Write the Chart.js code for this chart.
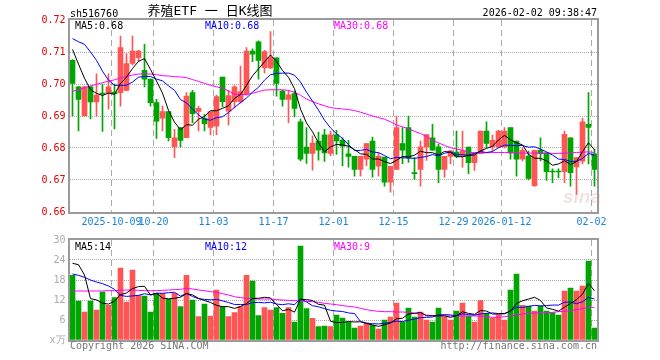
<!DOCTYPE html>
<html>
<head>
<meta charset="utf-8">
<script src="https://cdn.jsdelivr.net/npm/chart.js@4/dist/chart.umd.min.js"></script>
<style>
  body { margin: 0; width: 660px; height: 360px; position: relative; overflow: hidden; background: #fff;
         font-family: "DejaVu Sans Mono", monospace; font-size: 10px; }
  canvas { position: absolute; left: 0; }
  .t { position: absolute; white-space: pre; line-height: 12px; }
</style>
</head>
<body>
<canvas id="kline" width="660" height="230" style="top:0"></canvas>
<canvas id="vol" width="660" height="130" style="top:230px"></canvas>

<div class="t" style="left:70px;top:8px;color:#000">sh516760</div>
<div class="t" style="left:110px;width:200px;top:3px;text-align:center;font-size:13px;line-height:16px;font-family:'DejaVu Sans Mono','Noto Sans CJK SC',sans-serif">养殖ETF 一 日K线图</div>
<div class="t" style="right:63px;top:7px;color:#000">2026-02-02 09:38:47</div>

<div class="t" style="left:75px;top:20px;color:#000">MA5:0.68</div>
<div class="t" style="left:205px;top:20px;color:#0000ff">MA10:0.68</div>
<div class="t" style="left:334px;top:20px;color:#ff00ff">MA30:0.68</div>

<div class="t" style="left:75px;top:241px;color:#000">MA5:14</div>
<div class="t" style="left:205px;top:241px;color:#0000ff">MA10:12</div>
<div class="t" style="left:334px;top:241px;color:#ff00ff">MA30:9</div>

<div class="t" style="left:70px;top:340px;color:#777">Copyright 2026 SINA.COM</div>
<div class="t" style="right:63px;top:340px;color:#777">http://finance.sina.com.cn</div>
<div class="t" style="left:563px;top:187px;font:italic bold 19px 'Liberation Sans',sans-serif;line-height:20px;color:rgba(200,150,150,0.28)">sina</div>

<script>
// trading days
const dates = [
  '2025-09-22','2025-09-23','2025-09-24','2025-09-25','2025-09-26','2025-09-29','2025-09-30',
  '2025-10-09','2025-10-10','2025-10-13','2025-10-14','2025-10-15','2025-10-16','2025-10-17',
  '2025-10-20','2025-10-21','2025-10-22','2025-10-23','2025-10-24',
  '2025-10-27','2025-10-28','2025-10-29','2025-10-30','2025-10-31',
  '2025-11-03','2025-11-04','2025-11-05','2025-11-06','2025-11-07',
  '2025-11-10','2025-11-11','2025-11-12','2025-11-13','2025-11-14',
  '2025-11-17','2025-11-18','2025-11-19','2025-11-20','2025-11-21',
  '2025-11-24','2025-11-25','2025-11-26','2025-11-27','2025-11-28',
  '2025-12-01','2025-12-02','2025-12-03','2025-12-04','2025-12-05',
  '2025-12-08','2025-12-09','2025-12-10','2025-12-11','2025-12-12',
  '2025-12-15','2025-12-16','2025-12-17','2025-12-18','2025-12-19',
  '2025-12-22','2025-12-23','2025-12-24','2025-12-25','2025-12-26',
  '2025-12-29','2025-12-30','2025-12-31',
  '2026-01-05','2026-01-06','2026-01-07','2026-01-08','2026-01-09',
  '2026-01-12','2026-01-13','2026-01-14','2026-01-15','2026-01-16',
  '2026-01-19','2026-01-20','2026-01-21','2026-01-22','2026-01-23',
  '2026-01-26','2026-01-27','2026-01-28','2026-01-29','2026-01-30',
  '2026-02-02'
];
const tickDates = ['2025-10-09','2025-10-20','2025-11-03','2025-11-17','2025-12-01','2025-12-15','2025-12-29','2026-01-12','2026-02-02'];
const tickText  = ['2025-10-09','10-20','11-03','11-17','12-01','12-15','12-29','2026-01-12','02-02'];

const open = [
  0.7074,0.6991,0.6900,0.6991,0.6944,0.6972,0.6973,0.6975,0.6973,0.6980,
  0.7064,0.7082,0.7043,0.7015,0.6942,0.6893,0.6914,0.6804,0.6864,0.6832,
  0.6973,0.6914,0.6893,0.6864,0.6868,0.7022,0.6915,0.6945,0.6945,0.6970,
  0.7103,0.7132,0.7051,0.7050,0.7082,0.6978,0.6952,0.6970,0.6882,0.6803,
  0.6783,0.6822,0.6841,0.6783,0.6841,0.6824,0.6782,0.6774,0.6733,0.6765,
  0.6822,0.6743,0.6772,0.6693,0.6733,0.6814,0.6864,0.6722,0.6733,0.6803,
  0.6832,0.6804,0.6733,0.6774,0.6787,0.6774,0.6803,0.6754,0.6782,0.6853,
  0.6803,0.6803,0.6803,0.6864,0.6822,0.6765,0.6775,0.6682,0.6793,0.6785,
  0.6727,0.6727,0.6726,0.6832,0.6741,0.6759,0.6874,0.6782
];
const high = [
  0.7076,0.6993,0.6993,0.6993,0.7032,0.7000,0.7032,0.7000,0.7150,0.7095,
  0.7150,0.7105,0.7124,0.7015,0.6952,0.6931,0.6914,0.6858,0.6864,0.6973,
  0.6980,0.6931,0.6905,0.6914,0.6965,0.7022,0.6980,0.6995,0.7056,0.7114,
  0.7110,0.7135,0.7105,0.7164,0.7082,0.6980,0.6980,0.6978,0.6890,0.6864,
  0.6838,0.6850,0.6858,0.6853,0.6855,0.6832,0.6824,0.6774,0.6774,0.6814,
  0.6834,0.6785,0.6772,0.6743,0.6900,0.6864,0.6900,0.6770,0.6822,0.6842,
  0.6874,0.6812,0.6774,0.6791,0.6853,0.6853,0.6803,0.6782,0.6853,0.6882,
  0.6840,0.6855,0.6864,0.6864,0.6822,0.6800,0.6790,0.6793,0.6832,0.6785,
  0.6735,0.6735,0.6853,0.6832,0.6770,0.6893,0.6973,0.6796
];
const low = [
  0.6900,0.6853,0.6900,0.6891,0.6900,0.6852,0.6921,0.6860,0.6931,0.6978,
  0.7060,0.7070,0.6991,0.6931,0.6830,0.6853,0.6822,0.6770,0.6803,0.6832,
  0.6879,0.6853,0.6853,0.6841,0.6842,0.6928,0.6872,0.6925,0.6940,0.6965,
  0.7070,0.7015,0.7035,0.7048,0.6962,0.6931,0.6879,0.6897,0.6760,0.6752,
  0.6731,0.6762,0.6758,0.6775,0.6780,0.6744,0.6740,0.6712,0.6712,0.6745,
  0.6709,0.6712,0.6681,0.6662,0.6733,0.6751,0.6755,0.6702,0.6681,0.6761,
  0.6793,0.6692,0.6709,0.6750,0.6770,0.6740,0.6720,0.6730,0.6782,0.6800,
  0.6790,0.6800,0.6800,0.6765,0.6712,0.6760,0.6700,0.6680,0.6760,0.6699,
  0.6692,0.6707,0.6692,0.6681,0.6655,0.6750,0.6750,0.6681
];
const close = [
  0.7002,0.6952,0.6991,0.6944,0.6965,0.6968,0.6991,0.6970,0.7114,0.7064,
  0.7103,0.7103,0.7015,0.6942,0.6884,0.6914,0.6832,0.6832,0.6824,0.6962,
  0.6907,0.6924,0.6876,0.6914,0.6961,0.6945,0.6964,0.6991,0.6976,0.7103,
  0.7093,0.7074,0.7101,0.7083,0.7002,0.6952,0.6966,0.6924,0.6765,0.6783,
  0.6815,0.6793,0.6785,0.6841,0.6822,0.6806,0.6774,0.6733,0.6774,0.6814,
  0.6733,0.6774,0.6693,0.6743,0.6864,0.6793,0.6768,0.6720,0.6804,0.6842,
  0.6793,0.6733,0.6774,0.6791,0.6774,0.6791,0.6754,0.6782,0.6853,0.6814,
  0.6824,0.6853,0.6853,0.6785,0.6765,0.6793,0.6705,0.6793,0.6782,0.6726,
  0.6725,0.6725,0.6843,0.6723,0.6770,0.6882,0.6864,0.6733
];
// volume, 万手
const volume = [
  19.4,11.7,8.4,11.7,9.0,14.4,10.4,12.7,21.6,11.4,
  21.0,13.4,13.2,8.4,14.0,14.0,12.2,14.0,10.0,19.4,
  12.0,7.0,10.8,7.2,15.0,10.0,7.0,8.2,10.0,19.4,
  17.7,7.3,9.7,9.0,9.7,8.0,9.7,5.4,28.2,9.4,
  6.5,4.0,4.2,4.0,7.5,6.6,5.4,3.6,4.2,5.0,
  4.4,3.3,6.0,6.9,11.1,5.4,9.6,6.9,8.4,6.0,
  5.4,9.6,6.9,6.0,8.7,11.1,7.2,5.4,11.8,7.9,
  6.6,7.6,6.0,15.0,19.8,10.4,10.2,8.7,10.2,8.7,
  8.2,7.5,14.7,15.6,14.7,16.2,23.7,3.6
];

// averages before the window starts
const ma5Head = [0.7108,0.7062,0.7018,0.6982];
const ma10Head = [0.7142,0.7132,0.7124,0.7100,0.7074,0.7040,0.7012,0.6996,0.6996];
const ma30 = [
  0.6977,0.6982,0.6988,0.6994,0.6999,0.7004,0.7009,0.7013,0.7019,0.7024,
  0.7028,0.7031,0.7032,0.7031,0.7029,0.7026,0.7025,0.7023,0.7022,0.7020,
  0.7014,0.7008,0.7002,0.6996,0.6991,0.6987,0.6978,0.6968,0.6967,0.6967,
  0.6971,0.6976,0.6981,0.6982,0.6982,0.6982,0.6980,0.6974,0.6965,0.6953,
  0.6945,0.6938,0.6932,0.6926,0.6924,0.6922,0.6920,0.6917,0.6912,0.6906,
  0.6900,0.6895,0.6890,0.6882,0.6872,0.6866,0.6860,0.6852,0.6845,0.6836,
  0.6824,0.6816,0.6808,0.6801,0.6797,0.6793,0.6787,0.6785,0.6785,0.6785,
  0.6786,0.6786,0.6786,0.6785,0.6785,0.6784,0.6784,0.6784,0.6784,0.6784,
  0.6783,0.6783,0.6784,0.6785,0.6786,0.6787,0.6788,0.6786
];
const volMa5Head = [23.0,22.6,19.5,12.4];
const volMa10Head = [19.8,19.4,18.8,18.0,17.4,16.9,16.2,15.2,13.4];
const volMa30 = [
  14.7,14.7,14.7,14.7,14.7,14.7,14.8,14.8,14.9,15.0,
  15.0,14.9,14.8,14.8,14.8,14.9,15.0,15.1,15.2,15.5,
  15.3,15.0,14.8,14.5,14.3,13.9,13.5,13.0,12.7,12.5,
  12.4,12.3,12.3,12.3,12.1,12.0,11.9,11.8,11.7,11.6,
  11.5,11.3,11.0,10.8,10.6,10.3,10.1,9.9,9.5,9.1,
  8.8,8.6,8.5,8.5,8.4,8.4,8.3,8.1,7.8,7.5,
  7.3,7.2,7.2,7.2,7.2,7.2,7.2,7.2,7.2,7.0,
  6.8,6.8,7.0,7.2,7.5,7.8,8.0,8.1,8.2,8.2,
  8.3,8.5,8.6,8.8,9.1,9.4,9.8,9.8
];

function movingAvg(src, n, head) {
  return src.map((v, i) => i < n - 1 ? head[i]
    : src.slice(i - n + 1, i + 1).reduce((a, b) => a + b, 0) / n);
}

const UP = '#ff5555', DOWN = '#00a600';
const colors = close.map((c, i) => c > open[i] ? UP : DOWN);
const monoFont = { family: '"DejaVu Sans Mono", monospace', size: 10 };
const gridIdx = tickDates.map(d => dates.indexOf(d));

const frame = {
  id: 'frame',
  afterDraw(chart) {
    const a = chart.chartArea, g = chart.ctx;
    g.save();
    g.strokeStyle = '#9a9a9a';
    g.lineWidth = 2;
    g.strokeRect(a.left - 0.5, a.top - 1, a.right - a.left + 1, a.bottom - a.top + 2);
    g.restore();
  }
};

function xScale(showLabels, height) {
  return {
    type: 'category',
    offset: true,
    grid: {
      offset: true,
      drawTicks: false,
      color: ctx => gridIdx.includes(ctx.index) ? '#aaaaaa' : 'rgba(0,0,0,0)'
    },
    border: { display: false, dash: [6, 4] },
    ticks: {
      display: showLabels,
      autoSkip: false,
      maxRotation: 0,
      padding: 4,
      labelOffset: -3,
      color: '#1884d8',
      font: monoFont,
      callback: (v, i) => {
        const k = tickDates.indexOf(dates[i]);
        return k >= 0 ? tickText[k] : '';
      }
    },
    afterFit: s => { s.height = height; }
  };
}

function lineSet(data, color) {
  return { type: 'line', data, borderColor: color, borderWidth: 1, pointRadius: 0, tension: 0, order: 0 };
}

const bodies = open.map((o, i) => [Math.min(o, close[i]), Math.max(o, close[i])]);
const wicks = low.map((l, i) => [l, high[i]]);

new Chart(document.getElementById('kline'), {
  type: 'bar',
  data: {
    labels: dates,
    datasets: [
      lineSet(movingAvg(close, 5, ma5Head), '#000000'),
      lineSet(movingAvg(close, 10, ma10Head), '#0000ff'),
      lineSet(ma30, '#ff00ff'),
      { data: bodies, backgroundColor: colors, barThickness: 5, minBarLength: 1, grouped: false, order: 2 },
      { data: wicks, backgroundColor: colors, barThickness: 1, grouped: false, order: 3 }
    ]
  },
  options: {
    responsive: false,
    animation: false,
    layout: { padding: { top: 20, right: 62.5, left: 0, bottom: 0 } },
    plugins: { legend: { display: false }, tooltip: { enabled: false } },
    scales: {
      x: xScale(true, 18),
      y: {
        min: 0.66, max: 0.72,
        grid: {
          drawTicks: false,
          color: ctx => (ctx.index === 0 || ctx.index === 6) ? 'rgba(0,0,0,0)' : '#aaaaaa'
        },
        border: { display: false, dash: [1, 1] },
        ticks: { stepSize: 0.01, padding: 4, color: '#e00000', font: monoFont, callback: v => v.toFixed(2) },
        afterFit: s => { s.width = 69.5; }
      }
    }
  },
  plugins: [frame]
});

new Chart(document.getElementById('vol'), {
  type: 'bar',
  data: {
    labels: dates,
    datasets: [
      lineSet(movingAvg(volume, 5, volMa5Head), '#000000'),
      lineSet(movingAvg(volume, 10, volMa10Head), '#0000ff'),
      lineSet(volMa30, '#ff00ff'),
      { data: volume, backgroundColor: colors, barThickness: 5, grouped: false, order: 2 }
    ]
  },
  options: {
    responsive: false,
    animation: false,
    layout: { padding: { top: 10, right: 62.5, left: 0, bottom: 0 } },
    plugins: { legend: { display: false }, tooltip: { enabled: false } },
    scales: {
      x: xScale(false, 20),
      y: {
        min: 0, max: 30,
        grid: {
          drawTicks: false,
          color: ctx => (ctx.index === 0 || ctx.index === 5) ? 'rgba(0,0,0,0)' : '#aaaaaa'
        },
        border: { display: false, dash: [1, 1] },
        ticks: { stepSize: 6, padding: 4, color: '#aaaaaa', font: monoFont, callback: v => v === 0 ? 'x万' : v },
        afterFit: s => { s.width = 69.5; }
      }
    }
  },
  plugins: [frame]
});
</script>
</body>
</html>
